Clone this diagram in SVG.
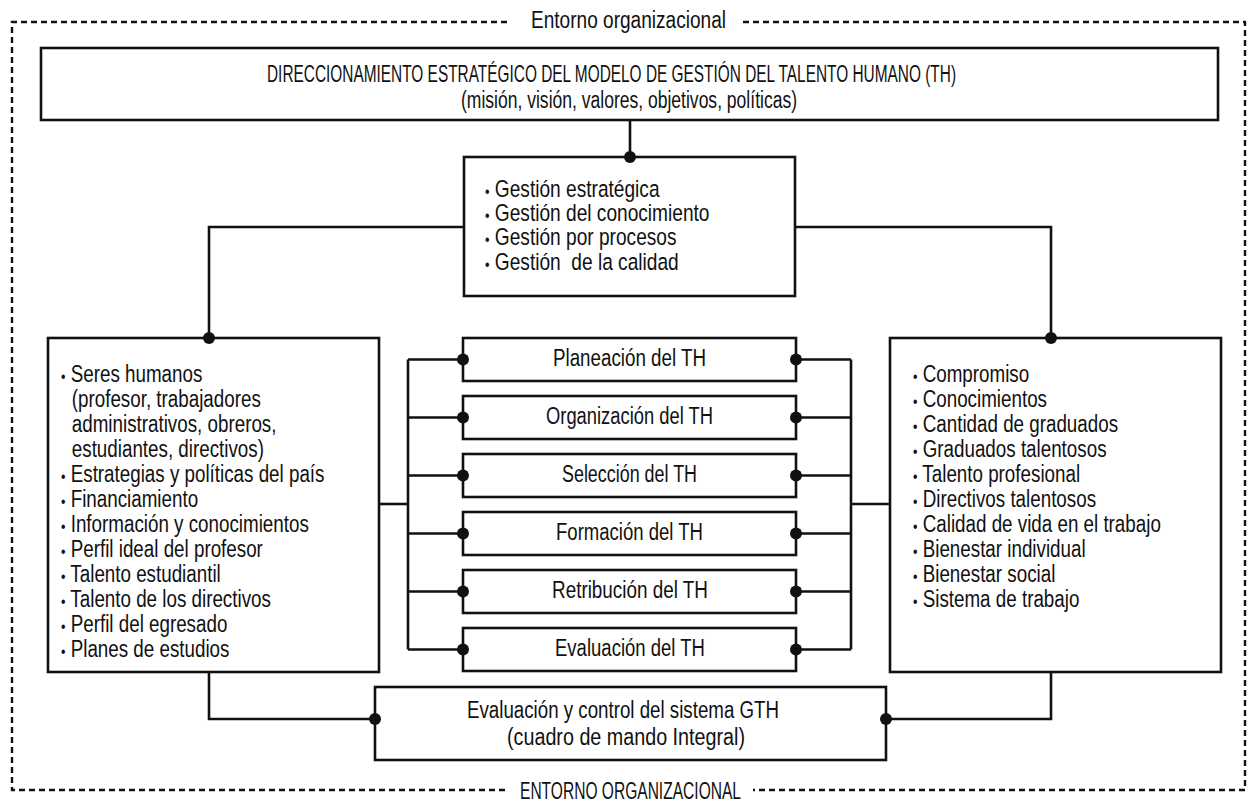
<svg xmlns="http://www.w3.org/2000/svg" width="1247" height="802" viewBox="0 0 1247 802">
<style>
  text { font-family: "Liberation Sans", Arial, sans-serif; font-size: 23.5px; fill: #111; white-space: pre; }
  .box { fill: #fff; stroke: #111; stroke-width: 2.6; }
  .con { fill: none; stroke: #111; stroke-width: 2.6; }
  .dash { fill: none; stroke: #111; stroke-width: 2.4; stroke-dasharray: 6 4; }
  .dot { fill: #111; }
  .b { font-size: 16px; }
  .mid { text-anchor: middle; }
</style>
<rect width="1247" height="802" fill="#fff"/>

<g id="entorno">
  <path class="dash" d="M507,22 H12 V790 H506"/>
  <path class="dash" d="M743,22 H1245 V790 H753"/>
  <text x="531" y="28" textLength="195" lengthAdjust="spacingAndGlyphs">Entorno organizacional</text>
  <text x="520" y="799" textLength="221" lengthAdjust="spacingAndGlyphs">ENTORNO ORGANIZACIONAL</text>
</g>

<g id="connectors">
  <path class="con" d="M630,120 V157"/>
  <path class="con" d="M464,227 H209 V338"/>
  <path class="con" d="M795,227 H1051 V338"/>
  <path class="con" d="M379,504 H408"/>
  <path class="con" d="M408,359.5 V649.5"/>
  <path class="con" d="M408,359.5 H463 M408,417.5 H463 M408,475.5 H463 M408,533.5 H463 M408,591.5 H463 M408,649.5 H463"/>
  <path class="con" d="M851,359.5 V649.5"/>
  <path class="con" d="M796,359.5 H851 M796,417.5 H851 M796,475.5 H851 M796,533.5 H851 M796,591.5 H851 M796,649.5 H851"/>
  <path class="con" d="M851,504 H890"/>
  <path class="con" d="M209,672 V719 H375"/>
  <path class="con" d="M1051,672 V719 H886"/>
</g>

<g id="direccionamiento">
  <rect class="box" x="41" y="48" width="1177" height="72"/>
  <text class="mid" transform="translate(611.5,82) scale(0.656,1)">DIRECCIONAMIENTO ESTRATÉGICO DEL MODELO DE GESTIÓN DEL TALENTO HUMANO (TH)</text>
  <text x="461" y="108" textLength="336" lengthAdjust="spacingAndGlyphs">(misión, visión, valores, objetivos, políticas)</text>
</g>

<g id="gestion">
  <rect class="box" x="464" y="157" width="331" height="139"/>
  <g transform="translate(485,0) scale(0.814,1)">
    <text x="0" y="197"><tspan class="b">•</tspan> Gestión estratégica</text>
    <text x="0" y="221"><tspan class="b">•</tspan> Gestión del conocimiento</text>
    <text x="0" y="245"><tspan class="b">•</tspan> Gestión por procesos</text>
    <text x="0" y="270"><tspan class="b">•</tspan> Gestión  de la calidad</text>
  </g>
</g>

<g id="entradas">
  <rect class="box" x="48" y="338" width="331" height="334"/>
  <g transform="translate(61,0) scale(0.80,1)">
    <text x="0" y="382"><tspan class="b">•</tspan> Seres humanos</text>
    <text x="13.5" y="407">(profesor, trabajadores</text>
    <text x="13.5" y="432">administrativos, obreros,</text>
    <text x="13.5" y="457">estudiantes, directivos)</text>
    <text x="0" y="482"><tspan class="b">•</tspan> Estrategias y políticas del país</text>
    <text x="0" y="507"><tspan class="b">•</tspan> Financiamiento</text>
    <text x="0" y="532"><tspan class="b">•</tspan> Información y conocimientos</text>
    <text x="0" y="557"><tspan class="b">•</tspan> Perfil ideal del profesor</text>
    <text x="0" y="582"><tspan class="b">•</tspan> Talento estudiantil</text>
    <text x="0" y="607"><tspan class="b">•</tspan> Talento de los directivos</text>
    <text x="0" y="632"><tspan class="b">•</tspan> Perfil del egresado</text>
    <text x="0" y="657"><tspan class="b">•</tspan> Planes de estudios</text>
  </g>
</g>

<g id="salidas">
  <rect class="box" x="890" y="338" width="331" height="334"/>
  <g transform="translate(913,0) scale(0.80,1)">
    <text x="0" y="382"><tspan class="b">•</tspan> Compromiso</text>
    <text x="0" y="407"><tspan class="b">•</tspan> Conocimientos</text>
    <text x="0" y="432"><tspan class="b">•</tspan> Cantidad de graduados</text>
    <text x="0" y="457"><tspan class="b">•</tspan> Graduados talentosos</text>
    <text x="0" y="482"><tspan class="b">•</tspan> Talento profesional</text>
    <text x="0" y="507"><tspan class="b">•</tspan> Directivos talentosos</text>
    <text x="0" y="532"><tspan class="b">•</tspan> Calidad de vida en el trabajo</text>
    <text x="0" y="557"><tspan class="b">•</tspan> Bienestar individual</text>
    <text x="0" y="582"><tspan class="b">•</tspan> Bienestar social</text>
    <text x="0" y="607"><tspan class="b">•</tspan> Sistema de trabajo</text>
  </g>
</g>

<g id="planeacion">
  <rect class="box" x="463" y="338" width="333" height="43"/>
  <text x="553" y="366" textLength="153" lengthAdjust="spacingAndGlyphs">Planeación del TH</text>
</g>
<g id="organizacion">
  <rect class="box" x="463" y="396" width="333" height="43"/>
  <text x="546" y="424" textLength="167" lengthAdjust="spacingAndGlyphs">Organización del TH</text>
</g>
<g id="seleccion">
  <rect class="box" x="463" y="454" width="333" height="43"/>
  <text x="562" y="482" textLength="135" lengthAdjust="spacingAndGlyphs">Selección del TH</text>
</g>
<g id="formacion">
  <rect class="box" x="463" y="512" width="333" height="43"/>
  <text x="556" y="540" textLength="147" lengthAdjust="spacingAndGlyphs">Formación del TH</text>
</g>
<g id="retribucion">
  <rect class="box" x="463" y="570" width="333" height="43"/>
  <text x="552" y="598" textLength="156" lengthAdjust="spacingAndGlyphs">Retribución del TH</text>
</g>
<g id="evaluacion">
  <rect class="box" x="463" y="628" width="333" height="43"/>
  <text x="555" y="656" textLength="150" lengthAdjust="spacingAndGlyphs">Evaluación del TH</text>
</g>

<g id="control">
  <rect class="box" x="375" y="687" width="511" height="73"/>
  <text x="467" y="718" textLength="312" lengthAdjust="spacingAndGlyphs">Evaluación y control del sistema GTH</text>
  <text x="507" y="745" textLength="238" lengthAdjust="spacingAndGlyphs">(cuadro de mando Integral)</text>
</g>

<g id="dots">
  <circle class="dot" cx="630" cy="157" r="6"/>
  <circle class="dot" cx="209" cy="338" r="6"/>
  <circle class="dot" cx="1051" cy="338" r="6"/>
  <circle class="dot" cx="463" cy="359.5" r="6"/>
  <circle class="dot" cx="463" cy="417.5" r="6"/>
  <circle class="dot" cx="463" cy="475.5" r="6"/>
  <circle class="dot" cx="463" cy="533.5" r="6"/>
  <circle class="dot" cx="463" cy="591.5" r="6"/>
  <circle class="dot" cx="463" cy="649.5" r="6"/>
  <circle class="dot" cx="796" cy="359.5" r="6"/>
  <circle class="dot" cx="796" cy="417.5" r="6"/>
  <circle class="dot" cx="796" cy="475.5" r="6"/>
  <circle class="dot" cx="796" cy="533.5" r="6"/>
  <circle class="dot" cx="796" cy="591.5" r="6"/>
  <circle class="dot" cx="796" cy="649.5" r="6"/>
  <circle class="dot" cx="375" cy="719" r="6"/>
  <circle class="dot" cx="886" cy="719" r="6"/>
</g>
</svg>
